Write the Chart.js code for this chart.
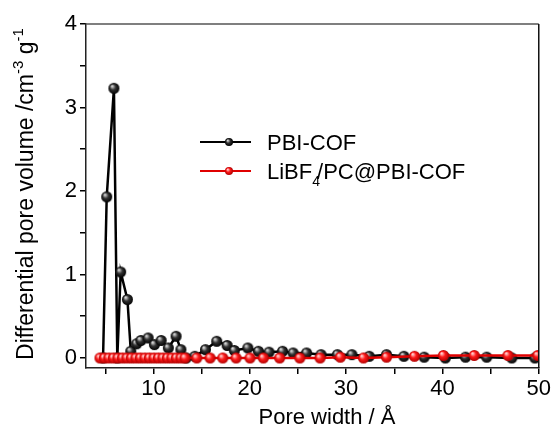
<!DOCTYPE html>
<html>
<head>
<meta charset="utf-8">
<script src="https://cdn.jsdelivr.net/npm/chart.js@4.4.0/dist/chart.umd.min.js"></script>
<style>
  html, body { margin: 0; padding: 0; background: #fff; }
</style>
</head>
<body>
<canvas id="graficoPoros" width="553" height="430"></canvas>
<script>
// PBI-COF (black)
const pbiX = [4.77, 5.15, 5.9, 6.25, 6.6, 7.3, 7.65, 8.26, 8.7, 9.45, 10.1, 10.8, 11.55, 12.35, 12.85,
  13.4, 14.3, 15.4, 16.57, 17.65, 18.4, 19.8, 20.9, 22.0, 23.4, 24.5, 25.9, 27.4, 29.1, 30.6,
  32.4, 34.2, 36.0, 38.1, 40.3, 42.4, 44.6, 47.2, 49.6];
const pbiY = [0, 1.93, 3.23, 0, 1.03, 0.70, 0.08, 0.17, 0.21, 0.24, 0.16, 0.21, 0.12, 0.26, 0.10,
  0, 0.02, 0.10, 0.20, 0.15, 0.09, 0.12, 0.08, 0.07, 0.08, 0.06, 0.06, 0.04, 0.04, 0.04,
  0.02, 0.04, 0.02, 0.01, 0, 0.01, 0.01, 0, 0];

// LiBF4/PC@PBI-COF (red)
const liX = [4.45, 4.92, 5.38, 5.85, 6.32, 6.79, 7.25, 7.72, 8.19, 8.65, 9.12, 9.59, 10.06, 10.52,
  10.99, 11.46, 11.92, 12.39, 12.86, 13.28, 14.5, 15.88, 17.2, 18.58, 20.03, 21.41, 23.1,
  25.2, 27.3, 29.4, 31.8, 34.2, 37.1, 40.1, 43.3, 46.8, 49.9];
const liY = [0, 0, 0, 0, 0, 0, 0, 0, 0, 0, 0, 0, 0, 0,
  0, 0, 0, 0, 0, 0, 0, 0, 0, 0, 0, 0, 0,
  0, 0, 0.01, 0, 0.01, 0.02, 0.03, 0.03, 0.03, 0.03];

const xTickValues = [5, 10, 15, 20, 25, 30, 35, 40, 45, 50];
const yTickValues = [0, 0.5, 1, 1.5, 2, 2.5, 3, 3.5, 4];

const fuente = '"Liberation Sans", Arial, sans-serif';

// esferas sombreadas para los marcadores
const crearBola = (r, claro, medio, oscuro) => {
  const c = document.createElement('canvas');
  c.width = c.height = Math.ceil(2 * r + 2);
  const g = c.getContext('2d');
  const k = c.width / 2;
  const grad = g.createRadialGradient(k - r * 0.35, k - r * 0.4, r * 0.1, k, k, r);
  grad.addColorStop(0, claro);
  grad.addColorStop(0.45, medio);
  grad.addColorStop(1, oscuro);
  g.fillStyle = grad;
  g.beginPath();
  g.arc(k, k, r, 0, Math.PI * 2);
  g.fill();
  return c;
};

const bolaNegra = crearBola(5.5, '#d8d8d8', '#333', '#000');
const bolaRoja = crearBola(5.5, '#ffd0d0', '#ff1a1a', '#b00000');
const bolaNegraLeyenda = crearBola(4, '#d8d8d8', '#333', '#000');
const bolaRojaLeyenda = crearBola(4, '#ffd0d0', '#ff1a1a', '#b00000');

const decoracion = {
  id: 'decoracion',
  afterDraw(chart) {
    const { ctx, chartArea: a } = chart;
    ctx.save();

    // marco superior y derecho
    ctx.strokeStyle = '#555';
    ctx.lineWidth = 1.5;
    ctx.beginPath();
    ctx.moveTo(a.left, a.top);
    ctx.lineTo(a.right, a.top);
    ctx.stroke();
    ctx.strokeStyle = '#111';
    ctx.beginPath();
    ctx.moveTo(a.right, a.top);
    ctx.lineTo(a.right, a.bottom);
    ctx.stroke();

    // leyenda
    const filas = [
      { y: 142, color: '#000', bola: bolaNegraLeyenda },
      { y: 171, color: '#e00000', bola: bolaRojaLeyenda },
    ];
    filas.forEach((f) => {
      ctx.strokeStyle = f.color;
      ctx.lineWidth = 2;
      ctx.beginPath();
      ctx.moveTo(200, f.y);
      ctx.lineTo(251, f.y);
      ctx.stroke();
      ctx.drawImage(f.bola, 229 - f.bola.width / 2, f.y - f.bola.height / 2);
    });
    ctx.fillStyle = '#000';
    ctx.textBaseline = 'alphabetic';
    ctx.textAlign = 'left';
    ctx.font = '22px ' + fuente;
    ctx.fillText('PBI-COF', 267, 150);
    let x = 267;
    ctx.fillText('LiBF', x, 179);
    x += ctx.measureText('LiBF').width;
    ctx.font = '14px ' + fuente;
    ctx.fillText('4', x, 186);
    x += ctx.measureText('4').width - 3;
    ctx.font = '22px ' + fuente;
    ctx.fillText('/PC@PBI-COF', x, 179);

    // título eje x
    ctx.textAlign = 'center';
    ctx.fillText('Pore width / \u00c5', 327, 424);

    // título eje y con superíndices
    const partes = [
      { t: 'Differential pore volume /cm', sup: false },
      { t: '-3', sup: true },
      { t: ' g', sup: false },
      { t: '-1', sup: true },
    ];
    let total = 0;
    partes.forEach((p) => {
      ctx.font = (p.sup ? '15px ' : '23px ') + fuente;
      p.w = ctx.measureText(p.t).width;
      total += p.w;
    });
    ctx.translate(33, (a.top + a.bottom) / 2 - 2);
    ctx.rotate(-Math.PI / 2);
    ctx.textAlign = 'left';
    let px = -total / 2;
    partes.forEach((p) => {
      ctx.font = (p.sup ? '15px ' : '23px ') + fuente;
      ctx.fillText(p.t, px, p.sup ? -10 : 0);
      px += p.w;
    });
    ctx.restore();
  },
};

const ctx = document.getElementById('graficoPoros');

new Chart(ctx, {
  type: 'line',
  data: {
    datasets: [
      {
        label: 'LiBF4/PC@PBI-COF',
        data: liX.map((x, i) => ({ x, y: liY[i] })),
        borderColor: '#e00000',
        borderWidth: 2.5,
        pointStyle: bolaRoja,
        tension: 0,
        order: 1,
      },
      {
        label: 'PBI-COF',
        data: pbiX.map((x, i) => ({ x, y: pbiY[i] })),
        borderColor: '#000',
        borderWidth: 2.5,
        pointStyle: bolaNegra,
        tension: 0,
        order: 2,
      },
    ],
  },
  options: {
    responsive: false,
    animation: false,
    devicePixelRatio: 1,
    layout: { padding: { top: 24, right: 14, left: 0, bottom: 0 } },
    plugins: {
      legend: { display: false },
      tooltip: { enabled: false },
    },
    scales: {
      x: {
        type: 'linear',
        min: 3,
        max: 50,
        afterBuildTicks: (s) => { s.ticks = xTickValues.map((v) => ({ value: v })); },
        afterFit: (s) => { s.height = 62; },
        ticks: {
          autoSkip: false,
          maxRotation: 0,
          padding: 2,
          color: '#000',
          font: { family: fuente, size: 22 },
          callback: (v) => (v % 10 === 0 ? String(v) : ''),
        },
        grid: { drawOnChartArea: false, drawTicks: true, tickLength: 6, color: '#000', lineWidth: 1.5 },
        border: { display: true, color: '#222', width: 1.5 },
      },
      y: {
        type: 'linear',
        min: -0.12,
        max: 4,
        afterBuildTicks: (s) => { s.ticks = yTickValues.map((v) => ({ value: v })); },
        afterFit: (s) => { s.width = 86; },
        ticks: {
          autoSkip: false,
          padding: 3,
          color: '#000',
          font: { family: fuente, size: 22 },
          callback: (v) => (Number.isInteger(v) ? String(v) : ''),
        },
        grid: { drawOnChartArea: false, drawTicks: true, tickLength: 6, color: '#000', lineWidth: 1.5 },
        border: { display: true, color: '#222', width: 1.5 },
      },
    },
  },
  plugins: [decoracion],
});
</script>
</body>
</html>
